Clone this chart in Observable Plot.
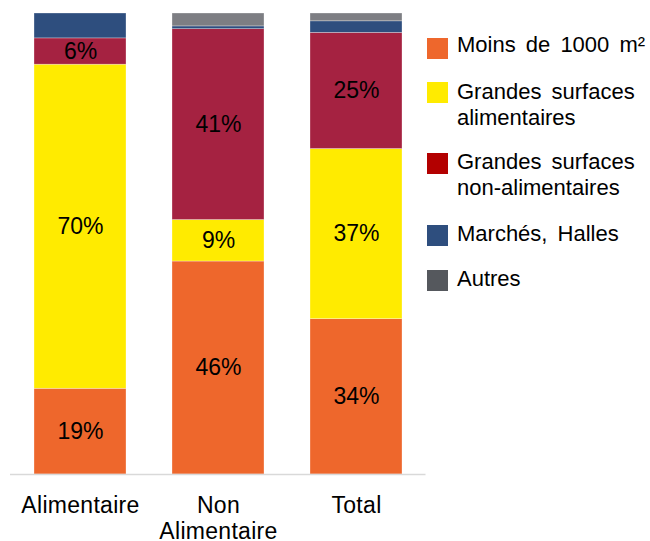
<!DOCTYPE html>
<html><head><meta charset="utf-8">
<script src="https://cdn.jsdelivr.net/npm/d3@7"></script>
<script src="https://cdn.jsdelivr.net/npm/@observablehq/plot@0.6"></script>
<style>
body{margin:0;background:#fff;font-family:"Liberation Sans",Arial,sans-serif;}
#wrap{position:relative;width:650px;height:541px;overflow:hidden;}
#wrap svg{position:absolute;left:0;top:0;}
#wrap svg g[aria-label="x-axis tick label"] text{letter-spacing:0.3px;}
.leg{position:absolute;left:427px;font-size:22px;line-height:26px;word-spacing:4px;color:#000;}
.sw{position:absolute;left:0;width:21px;height:21px;}
.lt{position:absolute;left:30px;top:0;white-space:nowrap;}
</style></head><body><div id="wrap"></div>
<script>
const categories = ["Alimentaire", "Non Alimentaire", "Total"];
const tickLabels = ["Alimentaire", "Non\nAlimentaire", "Total"];
const seriesNames = ["Moins de 1000 m²", "Grandes surfaces alimentaires", "Grandes surfaces non-alimentaires", "Marchés, Halles", "Autres"];
const legendLabels = [["Moins de 1000 m²"], ["Grandes surfaces", "alimentaires"], ["Grandes surfaces", "non-alimentaires"], ["Marchés, Halles"], ["Autres"]];
const moins = [18.6, 46.2, 33.7];
const gsAlim = [70.3, 9.0, 36.9];
const gsNonAlim = [5.7, 41.4, 25.2];
const marches = [5.4, 0.6, 2.5];
const autres = [0, 2.8, 1.7];
const barColors = ["#EE672C", "#FFEB00", "#A52241", "#2E4E7E", "#7D7E83"];
const legendColors = ["#EE672C", "#FFEB00", "#B30000", "#2E4E7E", "#55585D"];

const seriesValues = [moins, gsAlim, gsNonAlim, marches, autres];
const data = [];
categories.forEach((c, i) => {
  seriesValues.forEach((arr, j) => data.push({cat: c, series: seriesNames[j], value: arr[i], labeled: j < 3}));
});

const chart = Plot.plot({
  width: 650, height: 541,
  marginLeft: 10, marginRight: 224.5, marginTop: 13, marginBottom: 67,
  style: {fontFamily: '"Liberation Sans", Arial, sans-serif', fontSize: "22px", color: "#000", background: "transparent"},
  x: {domain: categories, paddingInner: 0.336, paddingOuter: 0.168},
  y: {domain: [0, 100], axis: null},
  color: {domain: seriesNames, range: barColors},
  marks: [
    Plot.barY(data, Plot.stackY({x: "cat", y: "value", z: "series", fill: "series", order: seriesNames, stroke: "#fff", strokeOpacity: 0.5, strokeWidth: 0.6})),
    Plot.text(data, Plot.stackY({x: "cat", y: "value", z: "series", order: seriesNames,
      text: d => d.labeled ? Math.round(d.value) + "%" : null, fontSize: 23, fill: "#000"})),
    Plot.ruleY([0], {stroke: "#d9d9d9", strokeWidth: 1.5}),
    Plot.axisX({tickSize: 0, tickPadding: 21, fontSize: 23, lineHeight: 1.1, fill: "#000", label: null,
      tickFormat: d => tickLabels[categories.indexOf(d)]})
  ]
});
const wrap = document.getElementById("wrap");
wrap.appendChild(chart);

const legTops = [32, 79, 149, 221, 266];
const swTops = [38, 82, 153, 225, 270];
seriesNames.forEach((s, j) => {
  const item = document.createElement("div");
  item.className = "leg";
  item.style.top = swTops[j] + "px";
  const sw = document.createElement("div");
  sw.className = "sw";
  sw.style.background = legendColors[j];
  sw.style.top = "0px";
  item.appendChild(sw);
  const lt = document.createElement("div");
  lt.className = "lt";
  lt.style.top = (legTops[j] - swTops[j]) + "px";
  lt.innerHTML = legendLabels[j].join("<br>");
  item.appendChild(lt);
  wrap.appendChild(item);
});
</script>
</body></html>
